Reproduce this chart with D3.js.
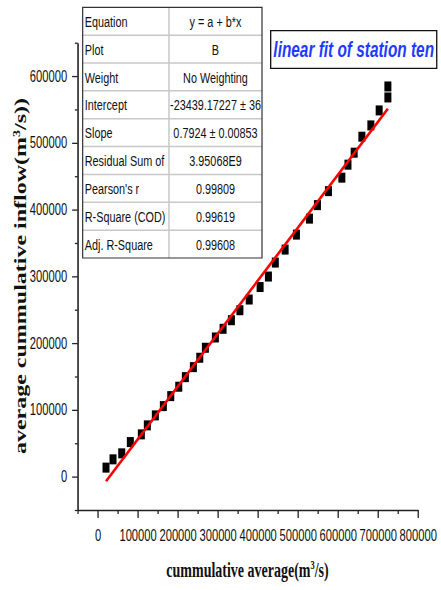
<!DOCTYPE html>
<html>
<head>
<meta charset="utf-8">
<script src="https://cdn.jsdelivr.net/npm/d3@7"></script>
<style>
  html, body { margin: 0; padding: 0; background: #fff; }
  svg { display: block; }
  .ax path, .ax line { stroke: #222; vector-effect: non-scaling-stroke; }
  .ax path { stroke-width: 1.6; }
  .ax line { stroke-width: 1.3; }
  .ax text { font-family: "Liberation Sans", Arial, sans-serif; font-size: 16px; fill: #111; }
</style>
</head>
<body>
<script>
// Cumulative series (x: cummulative average, y: average cummulative inflow)
const xValues = [20750, 38250, 60000, 81500, 109000, 124000, 144000, 164000, 182500, 202500,
                 219000, 239000, 255000, 269000, 294000, 313250, 334000, 355250, 378500, 405750,
                 426500, 443750, 468250, 496500, 529000, 549000, 576500, 610000, 625250, 640750,
                 660000, 682500, 703250, 725000, 725000];
const yValues = [13470, 25880, 34860, 51770, 63290, 76760, 91720, 105640, 120600, 134670,
                 149030, 163990, 178060, 193020, 208430, 221450, 234320, 249280, 265290, 283990,
                 299710, 320650, 340110, 362550, 386490, 406690, 427640, 447840, 467290, 485250,
                 509190, 526100, 548540, 568000, 584460];

// Linear fit parameters
const fitIntercept = -23439.17227;
const fitSlope = 0.7924;

// Fit report table
const tableLabels = ["Equation", "Plot", "Weight", "Intercept", "Slope", "Residual Sum of",
                     "Pearson's r", "R-Square (COD)", "Adj. R-Square"];
const tableValues = ["y = a + b*x", "B", "No Weighting", "-23439.17227 \u00b1 36", "0.7924 \u00b1 0.00853",
                     "3.95068E9", "0.99809", "0.99619", "0.99608"];

// Tick values
const xMajorTicks = d3.range(0, 800001, 100000);
const xMinorTicks = d3.range(-50000, 800001, 50000).filter(v => v % 100000 !== 0);
const yMajorTicks = d3.range(0, 600001, 100000);
const yMinorTicks = d3.range(-50000, 650001, 50000).filter(v => v % 100000 !== 0);

const chartTitle = "linear fit of station ten";

// Drawing: a 630-wide user space squeezed into the 441px window
const W = 441, H = 590, VW = 630;
const svg = d3.select("body").append("svg")
  .attr("width", W).attr("height", H)
  .attr("viewBox", `0 0 ${VW} ${H}`)
  .attr("preserveAspectRatio", "none");

const x = d3.scaleLinear().domain([-50000, 800000]).range([111, 597]);
const y = d3.scaleLinear().domain([-50000, 650000]).range([510, 42.7]);

// Axes
const gx = svg.append("g").attr("class", "ax").attr("transform", "translate(0,510)");
gx.call(d3.axisBottom(x).tickValues(xMajorTicks).tickSize(8).tickPadding(12)
  .tickSizeOuter(0).tickFormat(d3.format("d")));
svg.append("g").attr("class", "ax").attr("transform", "translate(0,510)")
  .call(d3.axisBottom(x).tickValues(xMinorTicks).tickSize(4).tickFormat(""))
  .select(".domain").remove();

const gy = svg.append("g").attr("class", "ax").attr("transform", "translate(111,0)");
gy.call(d3.axisLeft(y).tickValues(yMajorTicks).tickSize(8).tickPadding(7)
  .tickSizeOuter(0).tickFormat(d3.format("d")));
svg.append("g").attr("class", "ax").attr("transform", "translate(111,0)")
  .call(d3.axisLeft(y).tickValues(yMinorTicks).tickSize(4).tickFormat(""))
  .select(".domain").remove();

// Data markers
const pts = xValues.map((v, i) => ({ x: v, y: yValues[i] }));
svg.append("g").selectAll("rect").data(pts).join("rect")
  .attr("x", d => x(d.x) - 5).attr("y", d => y(d.y) - 5)
  .attr("width", 10).attr("height", 10)
  .attr("fill", "#000");

// Fitted line
const xExt = d3.extent(xValues);
svg.append("path")
  .datum(xExt.map(v => ({ x: v, y: fitIntercept + fitSlope * v })))
  .attr("d", d3.line().x(d => x(d.x)).y(d => y(d.y)))
  .attr("fill", "none").attr("stroke", "#ff0000").attr("stroke-width", 2.6)
  .style("vector-effect", "non-scaling-stroke");

// Axis titles
const xt = svg.append("text")
  .attr("x", 353.6).attr("y", 577)
  .attr("text-anchor", "middle")
  .style("font-family", "'Liberation Serif', 'Times New Roman', serif")
  .style("font-weight", "bold").style("font-size", "20px").attr("fill", "#111");
xt.append("tspan").text("cummulative average(m");
xt.append("tspan").text("3").attr("dy", -8).style("font-size", "12px");
xt.append("tspan").text("/s)").attr("dy", 8);

const yt = svg.append("text")
  .attr("transform", "translate(37,276) rotate(-90)")
  .attr("text-anchor", "middle")
  .style("font-family", "'Liberation Serif', 'Times New Roman', serif")
  .style("font-weight", "bold").style("font-size", "24px").attr("fill", "#111");
yt.append("tspan").text("average cummulative inflow(m");
yt.append("tspan").text("3").attr("dy", -9).style("font-size", "14px");
yt.append("tspan").text("/s))").attr("dy", 9);

// Fit report table
const tX0 = 118.1, tX1 = 374.3, tXs = 241.4, tY0 = 7.3, tY1 = 258;
const rowH = (tY1 - tY0) / tableLabels.length;
const tbl = svg.append("g");
tbl.append("rect").attr("x", tX0).attr("y", tY0).attr("width", tX1 - tX0).attr("height", tY1 - tY0)
  .attr("fill", "#fff").attr("stroke", "none");
tbl.selectAll("line.h").data(d3.range(1, tableLabels.length)).join("line").attr("class", "h")
  .attr("x1", tX0).attr("x2", tX1)
  .attr("y1", i => tY0 + i * rowH).attr("y2", i => tY0 + i * rowH)
  .attr("stroke", "#c8c8c8").attr("stroke-width", 1.5).style("vector-effect", "non-scaling-stroke");
tbl.append("line").attr("x1", tXs).attr("x2", tXs).attr("y1", tY0).attr("y2", tY1)
  .attr("stroke", "#c8c8c8").attr("stroke-width", 1.5).style("vector-effect", "non-scaling-stroke");
tbl.append("rect").attr("x", tX0).attr("y", tY0).attr("width", tX1 - tX0).attr("height", tY1 - tY0)
  .attr("fill", "none").attr("stroke", "#333").attr("stroke-width", 1.2)
  .style("vector-effect", "non-scaling-stroke");
const cellFont = "'Liberation Sans', Arial, sans-serif";
tbl.selectAll("text.lab").data(tableLabels).join("text").attr("class", "lab")
  .attr("x", tX0 + 3).attr("y", (d, i) => tY0 + (i + 0.5) * rowH).attr("dy", "0.36em")
  .style("font-family", cellFont).style("font-size", "15.5px").attr("fill", "#111")
  .text(d => d);
tbl.selectAll("text.val").data(tableValues).join("text").attr("class", "val")
  .attr("x", (tXs + tX1) / 2).attr("y", (d, i) => tY0 + (i + 0.5) * rowH).attr("dy", "0.36em")
  .attr("text-anchor", "middle")
  .style("font-family", cellFont).style("font-size", "15.5px").attr("fill", "#111")
  .text(d => d);

// Title box
svg.append("rect").attr("x", 386.7).attr("y", 30.7).attr("width", 237.2).attr("height", 37.6)
  .attr("fill", "#fff").attr("stroke", "#111").attr("stroke-width", 1.3)
  .style("vector-effect", "non-scaling-stroke");
svg.append("text").attr("x", 505.3).attr("y", 57.3).attr("text-anchor", "middle")
  .style("font-family", "'Liberation Sans', Arial, sans-serif")
  .style("font-weight", "bold").style("font-style", "italic").style("font-size", "22px")
  .attr("fill", "#1e3cff").text(chartTitle);
</script>
</body>
</html>
